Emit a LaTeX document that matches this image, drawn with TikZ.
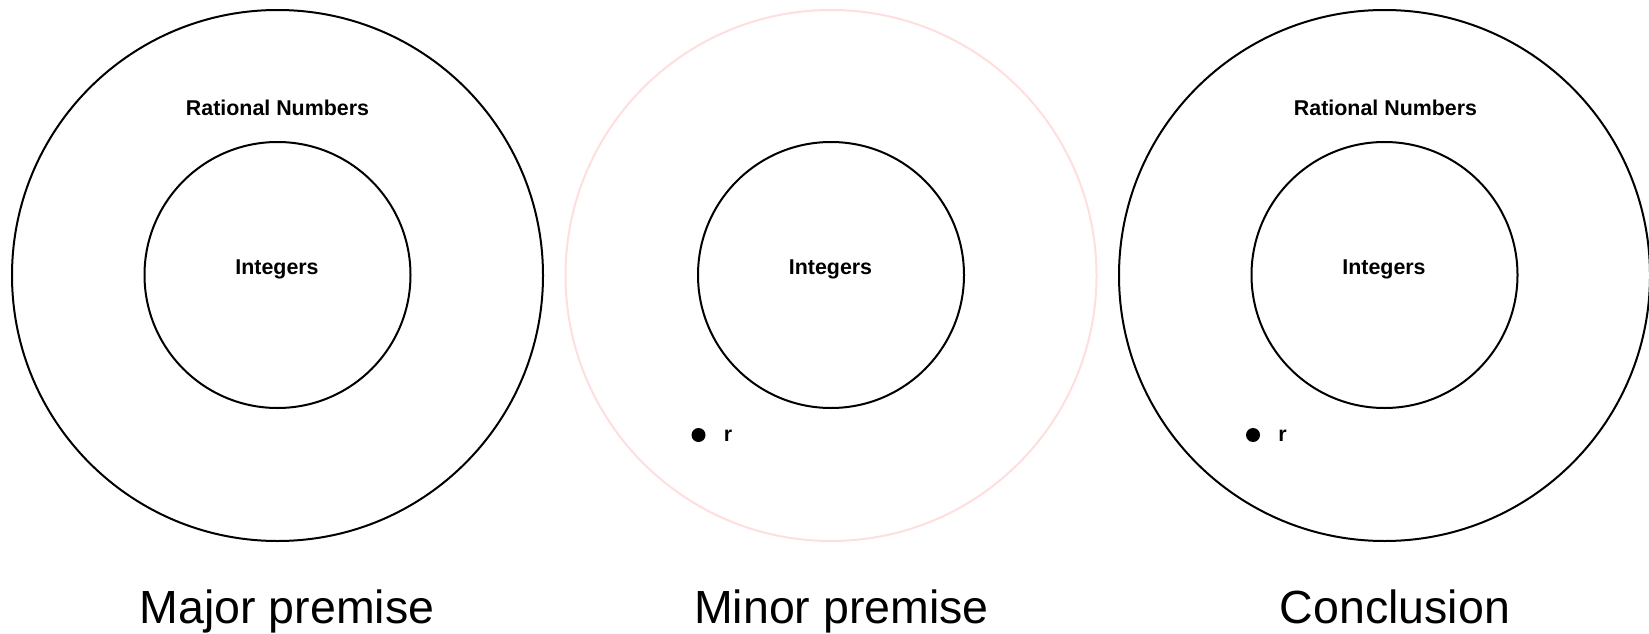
\documentclass[tikz,border=0pt]{standalone}
\usepackage{fontspec}
\setmainfont{Liberation Sans}
\definecolor{palepink}{RGB}{255,222,222}
\begin{document}
\begin{tikzpicture}[x=1pt,y=-1pt,
  outerring/.style={circle,draw=black,line width=2pt,inner sep=0pt,minimum size=531pt},
  innerring/.style={circle,draw=black,line width=2pt,inner sep=0pt,minimum size=266pt},
  setlabel/.style={anchor=base,inner sep=0pt,font=\fontsize{21.4}{25}\selectfont\bfseries},
  caption/.style={anchor=base,inner sep=0pt,font=\fontsize{46.5}{52}\selectfont},
  elem/.style={circle,fill=black,inner sep=0pt,minimum size=14pt}]
\useasboundingbox (0,0) rectangle (1649,634);
% Major premise
\node[outerring] (ratA) at (277.5,275.5) {};
\node[innerring] (intA) at (277.5,275) {};
\node[setlabel] (ratAl) at (277.5,115.5) {Rational Numbers};
\node[setlabel] (intAl) at (277,274.5) {Integers};
\node[caption] (capA) at (287,623) {Major premise};
% Minor premise
\node[outerring,draw=palepink] (ratB) at (831,275.5) {};
\node[innerring] (intB) at (831,275) {};
\node[setlabel] (intBl) at (830.5,274.5) {Integers};
\node[elem] (dotB) at (698.5,435) {};
\node[setlabel] (rB) at (728,441) {r};
\node[caption] (capB) at (841.5,623) {Minor premise};
% Conclusion
\node[outerring] (ratC) at (1384.5,275.5) {};
\node[innerring] (intC) at (1384.5,275) {};
\node[setlabel] (ratCl) at (1385.5,115.5) {Rational Numbers};
\node[setlabel] (intCl) at (1384,274.5) {Integers};
\node[elem] (dotC) at (1253,435) {};
\node[setlabel] (rC) at (1282.5,441) {r};
\node[caption] (capC) at (1395,623) {Conclusion};
\end{tikzpicture}
\end{document}
